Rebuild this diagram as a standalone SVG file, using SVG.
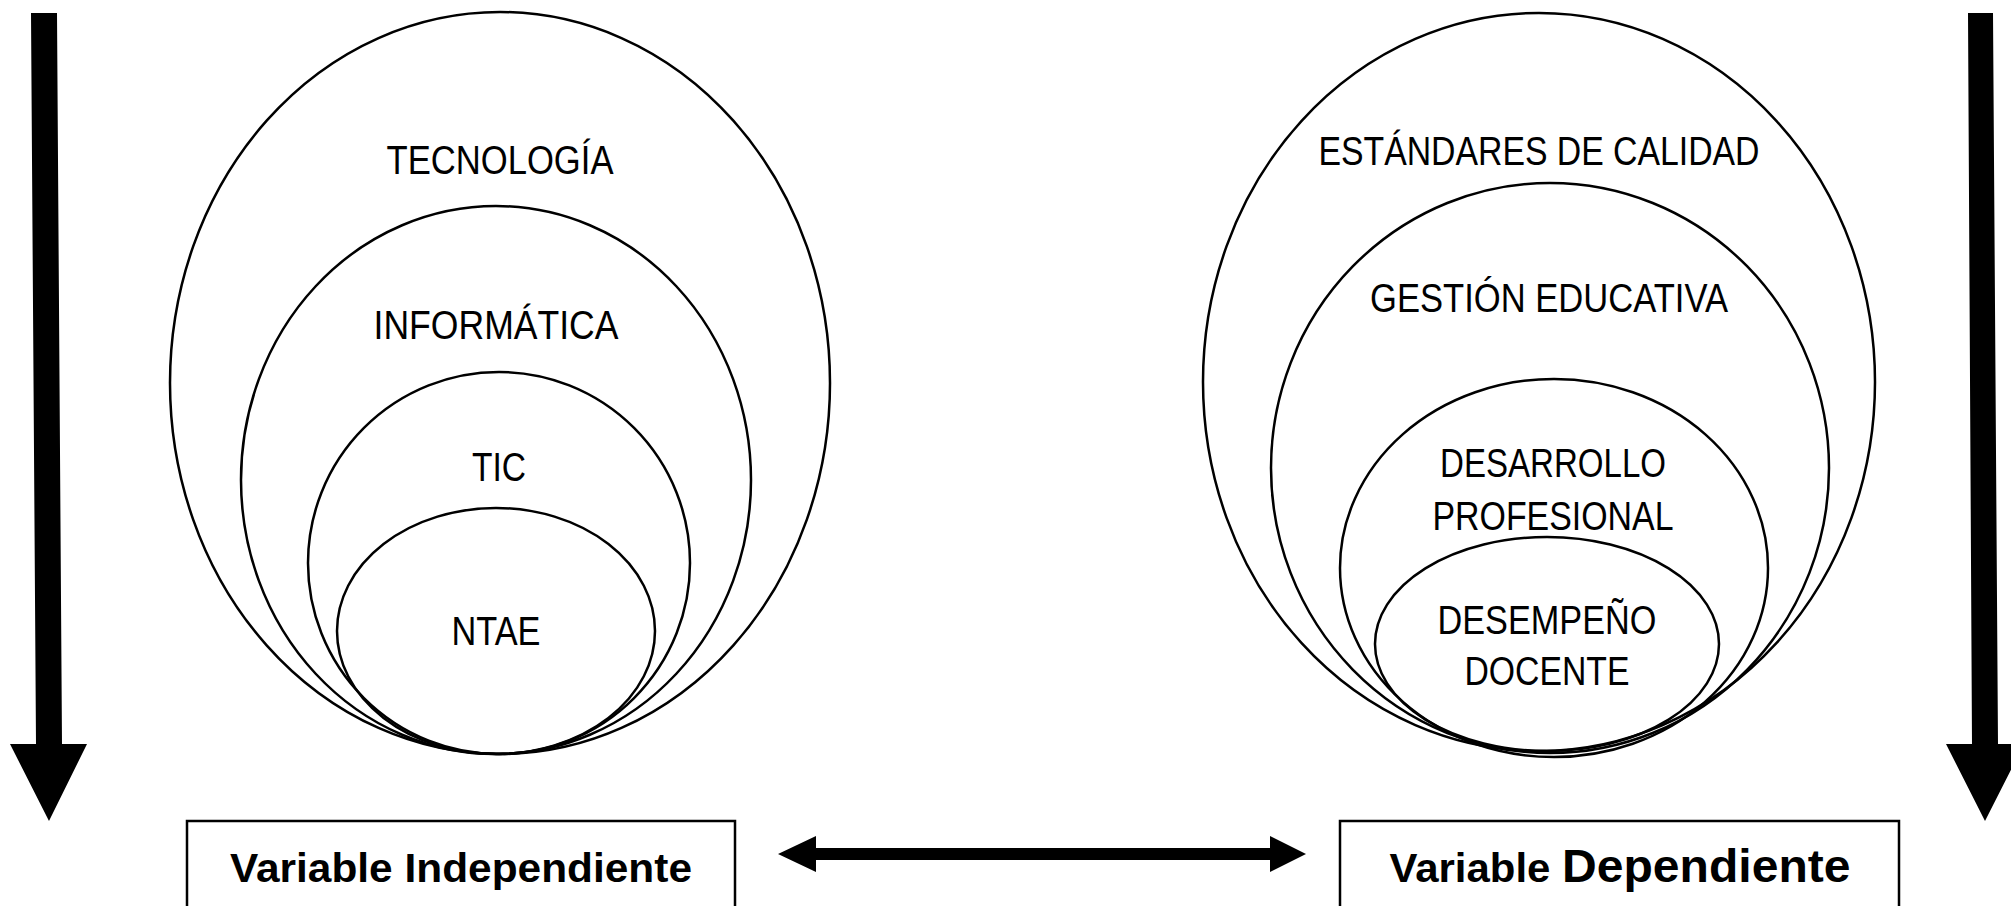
<svg xmlns="http://www.w3.org/2000/svg" width="2011" height="906" viewBox="0 0 2011 906">
  <style>
    .ring { fill: none; stroke: #000; stroke-width: 2.5; }
    .lbl { font-family: "Liberation Sans", Arial, sans-serif; font-size: 40px; fill: #000; text-anchor: middle; }
    .box { fill: #fff; stroke: #000; stroke-width: 2.5; }
    .var { font-family: "Liberation Sans", Arial, sans-serif; font-weight: bold; font-size: 41px; fill: #000; text-anchor: middle; }
    .big { font-size: 47px; }
    .arrow { fill: #000; stroke: none; }
  </style>
  <rect width="2011" height="906" fill="#fff"/>

  <!-- Independent variable: nested sets -->
  <g id="tecnologia">
    <ellipse class="ring" cx="500" cy="383" rx="330" ry="371"/>
    <text class="lbl" x="500" y="174" textLength="227" lengthAdjust="spacingAndGlyphs">TECNOLOGÍA</text>
  </g>
  <g id="informatica">
    <ellipse class="ring" cx="496" cy="480" rx="255" ry="274"/>
    <text class="lbl" x="496" y="339" textLength="245" lengthAdjust="spacingAndGlyphs">INFORMÁTICA</text>
  </g>
  <g id="tic">
    <ellipse class="ring" cx="499" cy="563" rx="191" ry="191"/>
    <text class="lbl" x="499" y="481" textLength="54" lengthAdjust="spacingAndGlyphs">TIC</text>
  </g>
  <g id="ntae">
    <ellipse class="ring" cx="496" cy="631" rx="159" ry="123"/>
    <text class="lbl" x="496" y="645" textLength="89" lengthAdjust="spacingAndGlyphs">NTAE</text>
  </g>

  <!-- Dependent variable: nested sets -->
  <g id="estandares">
    <ellipse class="ring" cx="1539" cy="382" rx="336" ry="369"/>
    <text class="lbl" x="1539" y="165" textLength="441" lengthAdjust="spacingAndGlyphs">ESTÁNDARES DE CALIDAD</text>
  </g>
  <g id="gestion">
    <ellipse class="ring" cx="1550" cy="468" rx="279" ry="285"/>
    <text class="lbl" x="1549" y="312" textLength="358" lengthAdjust="spacingAndGlyphs">GESTIÓN EDUCATIVA</text>
  </g>
  <g id="desarrollo">
    <ellipse class="ring" cx="1554" cy="568" rx="214" ry="189"/>
    <text class="lbl" x="1553" y="477" textLength="226" lengthAdjust="spacingAndGlyphs">DESARROLLO</text>
    <text class="lbl" x="1553" y="530" textLength="241" lengthAdjust="spacingAndGlyphs">PROFESIONAL</text>
  </g>
  <g id="desempeno">
    <ellipse class="ring" cx="1547" cy="644" rx="172" ry="107"/>
    <text class="lbl" x="1547" y="634" textLength="219" lengthAdjust="spacingAndGlyphs">DESEMPEÑO</text>
    <text class="lbl" x="1547" y="685" textLength="165" lengthAdjust="spacingAndGlyphs">DOCENTE</text>
  </g>

  <!-- Variable labels -->
  <g id="var-independiente">
    <rect class="box" x="187" y="821" width="548" height="100"/>
    <text class="var" x="461" y="882" textLength="462" lengthAdjust="spacingAndGlyphs">Variable Independiente</text>
  </g>
  <g id="var-dependiente">
    <rect class="box" x="1340" y="821" width="559" height="100"/>
    <text class="var" x="1620" y="882" textLength="461" lengthAdjust="spacingAndGlyphs">Variable <tspan class="big">Dependiente</tspan></text>
  </g>

  <!-- Connectors -->
  <g id="connectors">
    <polygon class="arrow" points="31,13 57,13 62,744 87,744 49,821 10,744 36,744"/>
    <polygon class="arrow" points="1968,13 1993,13 1998,744 2024,744 1985,821 1946,744 1972,744"/>
    <polygon class="arrow" points="778,854 816,836 816,848 1270,848 1270,836 1306,854 1270,872 1270,860 816,860 816,872"/>
  </g>
</svg>
